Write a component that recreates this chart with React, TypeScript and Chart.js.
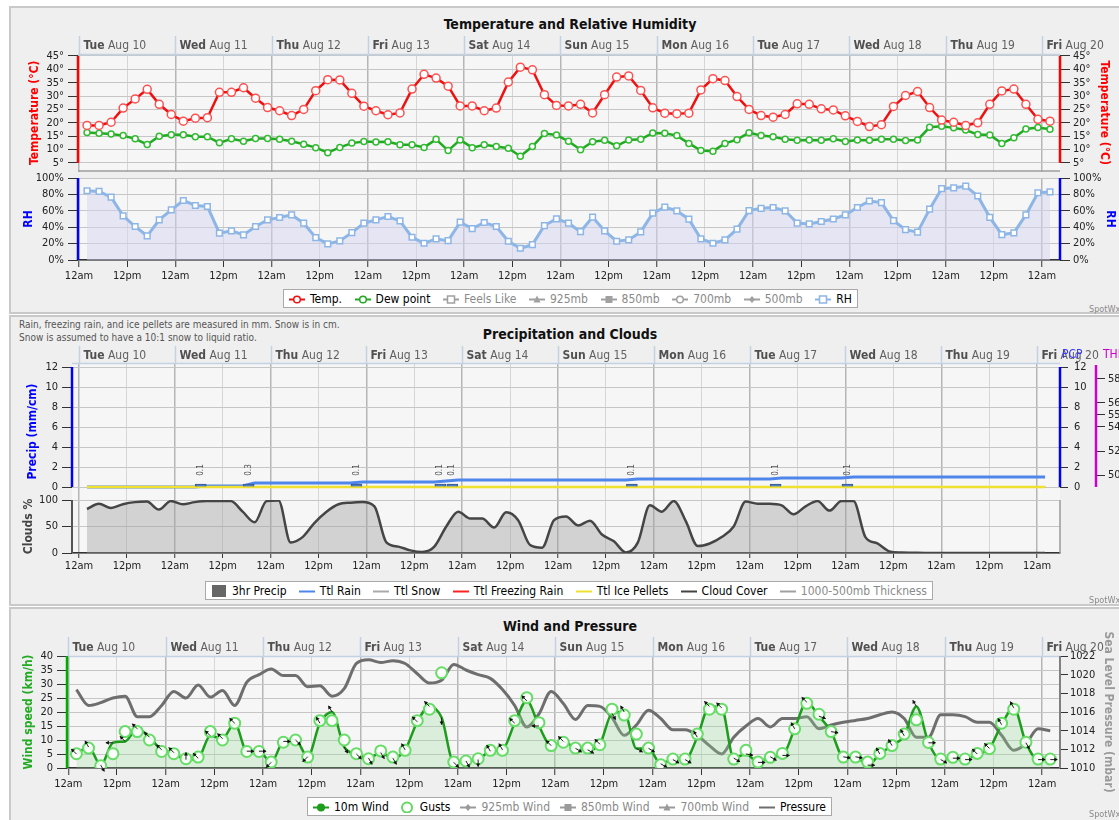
import React, { useEffect, useRef } from 'react';
import { Chart, registerables } from 'chart.js';

Chart.register(...registerables);

const FONT = "'DejaVu Sans Condensed', 'DejaVu Sans', sans-serif";
Chart.defaults.font.family = FONT;
Chart.defaults.font.size = 11;
Chart.defaults.color = '#222';

// ---------------- time axis (hours after 12am Tue Aug 10) ----------------
const hours = [2, 5, 8, 11, 14, 17, 20, 23, 26, 29, 32, 35, 38, 41, 44, 47, 50, 53, 56, 59, 62, 65, 68, 71, 74, 77, 80, 83, 86, 89, 92, 95, 98, 101, 104, 107, 110, 113, 116, 119, 122, 125, 128, 131, 134, 137, 140, 143, 146, 149, 152, 155, 158, 161, 164, 167, 170, 173, 176, 179, 182, 185, 188, 191, 194, 197, 200, 203, 206, 209, 212, 215, 218, 221, 224, 227, 230, 233, 236, 239, 242];
const xTicks = [0, 12, 24, 36, 48, 60, 72, 84, 96, 108, 120, 132, 144, 156, 168, 180, 192, 204, 216, 228, 240];
const dayNames = ['Tue', 'Wed', 'Thu', 'Fri', 'Sat', 'Sun', 'Mon', 'Tue', 'Wed', 'Thu', 'Fri'];
const dayDates = ['Aug 10', 'Aug 11', 'Aug 12', 'Aug 13', 'Aug 14', 'Aug 15', 'Aug 16', 'Aug 17', 'Aug 18', 'Aug 19', 'Aug 20'];

// ---------------- temperature & humidity ----------------
const temperature = [19, 19, 20.2, 25.5, 28.9, 32.5, 26.9, 23.1, 20.6, 21.7, 21.9, 31.4, 31.4, 33.1, 29.2, 25.7, 24.5, 22.7, 25, 32, 36.1, 36, 31, 26.2, 24.5, 23, 23.7, 32.6, 38.1, 36.7, 33.7, 26.3, 26.3, 24.5, 25.5, 35.2, 40.8, 39.8, 30.5, 26.5, 26.3, 26.9, 23.7, 30.5, 37.1, 37.5, 32.1, 25.6, 23.6, 23.4, 23.6, 32.3, 36.5, 35.8, 29.8, 25, 22.7, 22.1, 23.1, 27.1, 26.9, 25.2, 24.8, 22.6, 20.5, 18.6, 19.3, 26.1, 30.2, 31.7, 25.7, 21, 20.2, 19, 20, 26.9, 31.9, 32.6, 26.9, 21.3, 20.6];
const dewPoint = [16.4, 16.1, 15.8, 15.2, 14, 11.9, 15, 15.5, 15.5, 14.8, 14.8, 12.5, 14, 13.1, 14.1, 14.1, 13.8, 13.1, 12, 10.7, 8.8, 10.8, 12.4, 13, 12.8, 12.9, 11.8, 11.8, 10.8, 13.8, 9.6, 13.6, 10.7, 11.8, 11.1, 10.5, 7.5, 11.1, 16, 15.4, 13.1, 9.9, 12.9, 13.5, 11.4, 13.6, 13.8, 16.2, 16.1, 15.2, 12.3, 9.6, 9.4, 12.3, 13.7, 16.3, 15.2, 14.8, 13.8, 13.5, 13.6, 13.5, 14, 13, 13.6, 13.5, 13.8, 13.8, 13.4, 13.6, 18.3, 18.7, 18.1, 17.3, 15.6, 15.4, 12.3, 14.4, 17.7, 18.2, 17.6];
const humidity = [84.4, 83.6, 76.7, 53.9, 40.8, 29.4, 49, 61.2, 72.6, 66.5, 65.3, 32.7, 35.5, 30.6, 40.8, 49, 51.8, 55.1, 44.9, 27.3, 19.6, 23.3, 33.4, 44.9, 49, 53, 47.7, 27.8, 20.4, 25.7, 23.6, 46.1, 38.3, 45.7, 40.8, 22.9, 14.3, 18.7, 42, 50.2, 44.9, 34.6, 52.3, 35.5, 22.9, 24.5, 34.3, 57.2, 64.5, 60, 49.8, 25.7, 20.4, 24.5, 37.6, 60.3, 63, 64, 60, 45, 44, 47, 50, 55, 64, 72, 70, 48, 37, 34, 62, 87, 88, 90, 78, 52, 31, 33, 55, 82, 83];
const tempTicks = [5, 10, 15, 20, 25, 30, 35, 40, 45];
const rhTicks = [0, 20, 40, 60, 80, 100];

// ---------------- precipitation & clouds ----------------
const precipHours = [30.5, 42.5, 69.5, 90.5, 93.5, 138.5, 174.5, 192.5];
const precip3hr = [0.1, 0.3, 0.1, 0.1, 0.1, 0.1, 0.1, 0.1];
const rainHours = [2, 29, 32, 41, 44, 68, 71, 89, 92, 95, 137, 140, 173, 176, 191, 194, 242];
const rainTotal = [0, 0, 0.1, 0.1, 0.4, 0.4, 0.5, 0.5, 0.6, 0.7, 0.7, 0.8, 0.8, 0.9, 0.9, 1.0, 1.0];
const flatHours = [2, 242];
const snowTotal = [0, 0];
const freezingRainTotal = [0, 0];
const icePelletsTotal = [0, 0];
const cloudCover = [83, 93, 85, 92, 96, 97, 82, 98, 92, 96, 98, 98, 98, 78, 58, 98, 99, 20, 30, 57, 78, 92, 95, 96, 88, 20, 12, 5, 2, 12, 50, 78, 65, 65, 48, 77, 62, 15, 10, 62, 69, 52, 61, 35, 22, 1, 20, 90, 78, 98, 60, 13, 18, 30, 50, 97, 93, 93, 90, 73, 88, 98, 80, 98, 98, 30, 18, 3, 1, 0.5, 0, 0, 0, 0, 0, 0, 0, 0, 0, 0, 0];
const precipTicks = [0, 2, 4, 6, 8, 10, 12];
const thicknessTicks = [50, 52, 54, 55, 56, 58];
const cloudTicks = [0, 50, 100];

// ---------------- wind & pressure ----------------
const windSpeed = [5, 7.5, 1, 9, 9.5, 14, 11, 6.5, 5.5, 3, 3.5, 11.5, 10.5, 16, 6, 6, 2, 9.5, 10, 4, 16, 20, 7.5, 5, 3.5, 5.5, 3.5, 6.5, 16.5, 22, 18, 2, 2.5, 3, 6, 6.5, 16, 24, 15, 8, 9.5, 7, 6.5, 8.5, 19.5, 20, 7, 7, 1.5, 3, 3, 11, 22, 21.5, 3.5, 5, 2, 4, 4.5, 14, 23.5, 18.5, 13, 4, 4, 1, 5, 8, 11.5, 22, 9, 3, 3.5, 3, 5, 7, 15.5, 21.5, 9, 3, 3];
const windGust = [5.1, 7.1, 0.8, 5.1, 13, 13, 10, 5.9, 5.1, 3.3, 3.9, 13, 10, 16, 5.9, 5.9, 2.1, 9.2, 10, 3.9, 16.9, 16.9, 10, 5.1, 3.3, 6.1, 3.9, 6.3, 16.9, 21, 34, 2.1, 2.5, 3.3, 6.3, 6.3, 16.9, 25.1, 16.2, 8, 9.2, 7.1, 7.1, 8.3, 21, 18.9, 12.1, 7.1, 1.2, 3.2, 3.2, 12.1, 21, 21, 3.2, 6.3, 2.1, 3.8, 5.2, 14, 23.1, 19.2, 13, 3.9, 3.9, 2.1, 5.2, 8, 12.1, 17.2, 9.1, 3.2, 3.8, 3.2, 5.2, 6.9, 16, 21, 9.2, 3.2, 3.2];
const windDir = [315, 330, 150, 270, 315, 315, 315, 315, 315, 0, 315, 315, 315, 315, 90, 90, 225, 90, 135, 225, 330, 330, 150, 135, 150, 150, 150, 330, 315, 315, 180, 135, 150, 180, 330, 330, 315, 315, 270, 315, 315, 120, 120, 315, 150, 330, 120, 120, 120, 120, 120, 330, 315, 315, 120, 100, 90, 120, 90, 330, 315, 110, 100, 100, 100, 90, 330, 330, 330, 330, 90, 120, 90, 90, 315, 315, 330, 330, 150, 90, 90];
const pressure = [1018.4, 1016.7, 1017, 1017.5, 1017.7, 1015.5, 1015.5, 1016.7, 1018.2, 1017.5, 1018.9, 1017.6, 1018.3, 1016.7, 1019.2, 1020, 1020.6, 1019.9, 1019.9, 1018.7, 1018.8, 1017.7, 1018.5, 1021.2, 1021.6, 1021.3, 1021.5, 1021.2, 1020.1, 1019.1, 1019.4, 1021.1, 1020.5, 1020, 1019.6, 1018.4, 1016.7, 1014.4, 1015.8, 1018.2, 1016.9, 1015.2, 1016.7, 1016.6, 1015.4, 1013.5, 1014.6, 1016.2, 1015.3, 1014.1, 1014.1, 1013.5, 1012.4, 1011.5, 1013.3, 1014.5, 1015.3, 1014.4, 1015.3, 1015.3, 1015.5, 1014.2, 1014.6, 1014.9, 1015.1, 1015.3, 1015.7, 1016, 1015.3, 1013.3, 1013.3, 1015.7, 1015.7, 1015.5, 1014.9, 1014.9, 1013.5, 1011.9, 1012.6, 1014.2, 1014];
const windTicks = [0, 5, 10, 15, 20, 25, 30, 35, 40];
const pressureTicks = [1010, 1012, 1014, 1016, 1018, 1020, 1022];

// ---------------- helpers ----------------
const BG = '#f6f6f6';
const pts = (xs: number[], ys: number[]) => xs.map((x, i) => ({ x, y: ys[i] }));
const fixW = (w: number) => (s: any) => { s.width = w; s.paddingTop = 0; s.paddingBottom = 0; s.paddingLeft = 0; s.paddingRight = 0; };
const fixH = (h: number) => (s: any) => { s.height = h; s.paddingTop = 0; s.paddingBottom = 0; s.paddingLeft = 0; s.paddingRight = 0; };
const setTicks = (vals: number[]) => (s: any) => { s.ticks = vals.map((v) => ({ value: v })); };

const base = () => ({
  animation: false,
  responsive: false,
  maintainAspectRatio: false,
  events: [],
  plugins: { legend: { display: false }, tooltip: { enabled: false } },
});

function xAxis(min: number, max: number, show: boolean, height: number, tickLen = 7, pad = 3) {
  return {
    type: 'linear', min, max, offset: false,
    afterBuildTicks: setTicks(xTicks),
    afterFit: fixH(height),
    ticks: { display: show, autoSkip: false, maxRotation: 0, padding: pad, color: '#222', font: { size: 11 }, callback: (v: number) => (v % 24 === 0 ? '12am' : '12pm') },
    grid: {
      offset: false,
      color: (c: any) => (c.tick && c.tick.value % 24 === 0 ? '#b6b6b6' : '#d6d6d6'),
      lineWidth: (c: any) => (c.tick && c.tick.value % 24 === 0 ? 1.5 : 1),
      drawTicks: show, tickLength: tickLen, tickColor: '#333', tickWidth: 1,
    },
    border: { display: show, color: '#333', width: 1.5 },
  };
}

function yAxis(o: any) {
  return {
    type: 'linear', position: o.position, min: o.min, max: o.max, beginAtZero: false,
    afterBuildTicks: setTicks(o.ticks),
    afterFit: fixW(o.width),
    ticks: { display: o.showLabels !== false, autoSkip: false, padding: o.pad ?? 4, color: '#222', font: { size: 11 }, callback: o.label ?? ((v: number) => String(v)) },
    grid: { drawOnChartArea: !!o.grid, color: '#c6c6c6', lineWidth: 1, tickLength: o.tickLen ?? 9, tickColor: '#333', tickWidth: 1 },
    border: { display: false },
    title: o.title
      ? { display: true, text: o.title.text, color: o.title.color, font: { size: 12, weight: 'bold' }, padding: { top: o.title.pad, bottom: 0 } }
      : { display: false },
  };
}

function fillArea(chart: any, color: string) {
  const { ctx, chartArea: a } = chart;
  ctx.save();
  ctx.fillStyle = color;
  ctx.fillRect(a.left, a.top, a.right - a.left, a.bottom - a.top);
  ctx.restore();
}
function vLine(ctx: any, x: number, y1: number, y2: number, color: string, width: number) {
  ctx.save(); ctx.strokeStyle = color; ctx.lineWidth = width;
  ctx.beginPath(); ctx.moveTo(x, y1); ctx.lineTo(x, y2); ctx.stroke(); ctx.restore();
}
function hLine(ctx: any, x1: number, x2: number, y: number, color: string, width: number) {
  ctx.save(); ctx.strokeStyle = color; ctx.lineWidth = width;
  ctx.beginPath(); ctx.moveTo(x1, y); ctx.lineTo(x2, y); ctx.stroke(); ctx.restore();
}
function drawHeader(chart: any, height: number, textDy: number) {
  const { ctx, chartArea: a } = chart;
  const x = chart.scales.x;
  ctx.save();
  hLine(ctx, a.left, a.right, a.top + 0.5, '#c3d2e2', 1.5);
  dayNames.forEach((d, i) => {
    const px = Math.round(x.getPixelForValue(i * 24)) + 0.5;
    vLine(ctx, px, a.top - height, a.top, '#c3d2e2', 1.5);
    const ty = a.top - textDy;
    ctx.textBaseline = 'middle';
    ctx.textAlign = 'left';
    ctx.font = `bold 12px ${FONT}`;
    ctx.fillStyle = '#505050';
    ctx.fillText(d, px + 4, ty);
    const w = ctx.measureText(d).width;
    ctx.font = `12px ${FONT}`;
    ctx.fillStyle = '#606060';
    ctx.fillText(' ' + dayDates[i], px + 4 + w, ty);
  });
  ctx.restore();
}
function arrow(ctx: any, x: number, y: number, deg: number) {
  const a = (deg * Math.PI) / 180;
  const dx = Math.sin(a), dy = -Math.cos(a);
  const L = 7;
  const x1 = x + dx * L, y1 = y + dy * L;
  ctx.beginPath(); ctx.moveTo(x, y); ctx.lineTo(x1, y1); ctx.stroke();
  const px = -dy, py = dx;
  ctx.beginPath();
  ctx.moveTo(x1 + dx * 0.5, y1 + dy * 0.5);
  ctx.lineTo(x1 - dx * 3 + px * 2, y1 - dy * 3 + py * 2);
  ctx.lineTo(x1 - dx * 3 - px * 2, y1 - dy * 3 - py * 2);
  ctx.closePath(); ctx.fill();
}

// ---------------- chart configs ----------------
function tempConfig(): any {
  return {
    type: 'line',
    data: {
      datasets: [
        { data: pts(hours, temperature), borderColor: '#ee1111', borderWidth: 2.5, pointRadius: 4, pointBackgroundColor: '#ffffff', pointBorderColor: '#ff5050', pointBorderWidth: 1.5, tension: 0 },
        { data: pts(hours, dewPoint), borderColor: '#22aa22', borderWidth: 2.5, pointRadius: 3, pointBackgroundColor: '#ffffff', pointBorderColor: '#33bb33', pointBorderWidth: 1.5, tension: 0 },
      ],
    },
    options: {
      ...base(),
      layout: { padding: { top: 24, right: 0, bottom: 0, left: 0 } },
      scales: {
        x: xAxis(-0.25, 244.5, false, 0),
        y: yAxis({ position: 'left', min: 1.786, max: 45.714, ticks: tempTicks, width: 68, grid: true, label: (v: number) => v + '°', title: { text: 'Temperature (°C)', color: '#ff0000', pad: 17.8 }, tickLen: 10, pad: 4 }),
        y2: yAxis({ position: 'right', min: 1.786, max: 45.714, ticks: tempTicks, width: 59, label: (v: number) => v + '°', title: { text: 'Temperature (°C)', color: '#ff0000', pad: 7.8 }, tickLen: 10, pad: 3 }),
      },
    },
    plugins: [{
      id: 'decorT',
      beforeDraw: (c: any) => fillArea(c, BG),
      afterDraw: (c: any) => {
        const a = c.chartArea, y = c.scales.y;
        drawHeader(c, 18, 8);
        vLine(c.ctx, a.left, y.getPixelForValue(45), y.getPixelForValue(5), '#ff0000', 2.5);
        vLine(c.ctx, a.right, y.getPixelForValue(45), y.getPixelForValue(5), '#ff0000', 2.5);
        hLine(c.ctx, a.left, a.right, a.bottom - 0.5, '#9c9c9c', 1.5);
      },
    }],
  };
}

function rhConfig(): any {
  return {
    type: 'line',
    data: {
      datasets: [
        { data: pts(hours, humidity), borderColor: '#8db6e6', borderWidth: 3, pointStyle: 'rect', pointRadius: 4, pointBackgroundColor: '#ffffff', pointBorderColor: '#8db6e6', pointBorderWidth: 1.5, fill: 'origin', backgroundColor: 'rgba(212,212,240,0.5)', tension: 0 },
      ],
    },
    options: {
      ...base(),
      layout: { padding: { top: 13, right: 0, bottom: 0, left: 0 } },
      scales: {
        x: xAxis(-0.25, 244.5, true, 28),
        y: yAxis({ position: 'left', min: 0, max: 100, ticks: rhTicks, width: 68, grid: true, label: (v: number) => v + '%', title: { text: 'RH', color: '#0000ff', pad: 11.3 }, tickLen: 10, pad: 4 }),
        y2: yAxis({ position: 'right', min: 0, max: 100, ticks: rhTicks, width: 59, label: (v: number) => v + '%', title: { text: 'RH', color: '#0000ff', pad: 1.8 }, tickLen: 10, pad: 3 }),
      },
    },
    plugins: [{
      id: 'decorRH',
      beforeDraw: (c: any) => fillArea(c, BG),
      afterDraw: (c: any) => {
        const a = c.chartArea;
        vLine(c.ctx, a.left, a.top, a.bottom, '#0000ff', 2.5);
        vLine(c.ctx, a.right, a.top, a.bottom, '#0000ff', 2.5);
      },
    }],
  };
}

function precipConfig(): any {
  return {
    type: 'line',
    data: {
      datasets: [
        { type: 'bar', data: pts(precipHours, precip3hr), backgroundColor: '#4f7cc4', borderColor: '#36598f', borderWidth: 1, barThickness: 11, minBarLength: 3, order: 0 },
        { data: pts(rainHours, rainTotal), borderColor: '#4f86ec', borderWidth: 3, pointRadius: 0, tension: 0, order: 5 },
        { data: pts(flatHours, snowTotal), borderColor: '#9a9a9a', borderWidth: 2, pointRadius: 0, order: 4 },
        { data: pts(flatHours, freezingRainTotal), borderColor: '#ff2222', borderWidth: 2, pointRadius: 0, order: 3 },
        { data: pts(flatHours, icePelletsTotal), borderColor: '#f0e030', borderWidth: 2.5, pointRadius: 0, order: 2 },
      ],
    },
    options: {
      ...base(),
      layout: { padding: { top: 23, right: 0, bottom: 0, left: 0 } },
      scales: {
        x: xAxis(-1.753, 245.74, false, 0),
        y: yAxis({ position: 'left', min: -1.3, max: 12.4, ticks: precipTicks, width: 62, grid: true, title: { text: 'Precip (mm/cm)', color: '#0000ff', pad: 15.8 }, tickLen: 10, pad: 4 }),
        y2: yAxis({ position: 'right', min: -1.3, max: 12.4, ticks: precipTicks, width: 36, tickLen: 8, pad: 6 }),
        y3: yAxis({ position: 'right', min: 47.92, max: 59.33, ticks: thicknessTicks, width: 23, tickLen: 9, pad: 3 }),
      },
    },
    plugins: [{
      id: 'decorP',
      beforeDraw: (c: any) => fillArea(c, BG),
      afterDatasetsDraw: (c: any) => {
        const { ctx } = c;
        const y0 = c.scales.y.getPixelForValue(0);
        const meta = c.getDatasetMeta(0);
        meta.data.forEach((el: any, i: number) => {
          ctx.save();
          ctx.translate(el.x, y0 - 17);
          ctx.rotate(-Math.PI / 2);
          ctx.font = `8px ${FONT}`;
          ctx.fillStyle = '#555';
          ctx.textAlign = 'center';
          ctx.textBaseline = 'middle';
          ctx.fillText(precip3hr[i].toFixed(1), 0, 0);
          ctx.restore();
        });
      },
      afterDraw: (c: any) => {
        const { ctx, chartArea: a } = c;
        const y = c.scales.y, y3 = c.scales.y3;
        drawHeader(c, 17, 7);
        vLine(ctx, a.left, y.getPixelForValue(12), y.getPixelForValue(0), '#0000ff', 2.5);
        vLine(ctx, a.right, y.getPixelForValue(12), y.getPixelForValue(0), '#0000ff', 2.5);
        vLine(ctx, y3.left, y.getPixelForValue(12.2), y.getPixelForValue(0), '#cc00cc', 2.5);
        ctx.save();
        ctx.font = `12px ${FONT}`;
        ctx.textBaseline = 'middle';
        ctx.textAlign = 'left';
        ctx.fillStyle = '#3a3aff';
        ctx.fillText('PCP', 1052, 15);
        ctx.fillStyle = '#cc00cc';
        ctx.fillText('THK', 1093, 15);
        ctx.restore();
      },
    }],
  };
}

function cloudConfig(): any {
  return {
    type: 'line',
    data: {
      datasets: [
        { data: pts(hours, cloudCover), borderColor: '#454545', borderWidth: 2.5, pointRadius: 0, cubicInterpolationMode: 'monotone', fill: 'origin', backgroundColor: 'rgba(160,160,160,0.42)' },
      ],
    },
    options: {
      ...base(),
      layout: { padding: { top: 12, right: 59, bottom: 0, left: 0 } },
      scales: {
        x: xAxis(-1.753, 245.74, true, 27, 5, 2),
        y: yAxis({ position: 'left', min: 0, max: 100, ticks: cloudTicks, width: 62, grid: true, title: { text: 'Clouds %', color: '#444444', pad: 11.8 }, tickLen: 10, pad: 4 }),
      },
    },
    plugins: [{
      id: 'decorC',
      beforeDraw: (c: any) => fillArea(c, BG),
      afterDraw: (c: any) => {
        const a = c.chartArea;
        vLine(c.ctx, a.left, a.top, a.bottom, '#555555', 2);
        vLine(c.ctx, a.right, a.top, a.bottom, '#9a9a9a', 1.5);
      },
    }],
  };
}

function windConfig(): any {
  return {
    type: 'line',
    data: {
      datasets: [
        { data: pts(hours, windGust), showLine: false, pointRadius: 5.5, pointBorderWidth: 2, pointBorderColor: '#66dd66', pointBackgroundColor: 'rgba(255,255,255,0.92)', order: 0 },
        { data: pts(hours, windSpeed), borderColor: '#1c9e1c', borderWidth: 2.5, pointRadius: 0, cubicInterpolationMode: 'monotone', fill: 'origin', backgroundColor: 'rgba(150,215,150,0.28)', order: 1 },
        { data: pts(hours, pressure), yAxisID: 'y2', borderColor: '#6e6e6e', borderWidth: 3, pointRadius: 0, cubicInterpolationMode: 'monotone', order: 2 },
      ],
    },
    options: {
      ...base(),
      layout: { padding: { top: 26, right: 0, bottom: 0, left: 0 } },
      scales: {
        x: xAxis(-0.32, 244.4, true, 28),
        y: yAxis({ position: 'left', min: 0, max: 40, ticks: windTicks, width: 57, grid: true, title: { text: 'Wind speed (km/h)', color: '#22aa22', pad: 11.8 }, tickLen: 10, pad: 4 }),
        y2: yAxis({ position: 'right', min: 1010, max: 1022, ticks: pressureTicks, width: 59, title: { text: 'Sea Level Pressure (mbar)', color: '#9a9a9a', pad: 3.8 }, tickLen: 8, pad: 2 }),
      },
    },
    plugins: [{
      id: 'decorW',
      beforeDraw: (c: any) => fillArea(c, BG),
      afterDatasetsDraw: (c: any) => {
        const { ctx } = c;
        const meta = c.getDatasetMeta(1);
        ctx.save();
        ctx.strokeStyle = '#222';
        ctx.fillStyle = '#111';
        ctx.lineWidth = 1;
        meta.data.forEach((el: any, i: number) => arrow(ctx, el.x, el.y, windDir[i]));
        ctx.restore();
      },
      afterDraw: (c: any) => {
        const a = c.chartArea;
        drawHeader(c, 19, 8);
        vLine(c.ctx, a.left, a.top, a.bottom, '#00aa00', 2.5);
        vLine(c.ctx, a.right, a.top, a.bottom, '#808080', 2);
      },
    }],
  };
}

// ---------------- legends (HTML) ----------------
function Mk({ kind, color }: { kind: string; color: string }) {
  const line = kind !== 'box' && kind !== 'ring';
  return (
    <svg width="16" height="12" style={{ flex: 'none', marginRight: 5 }}>
      {line && <line x1="0" y1="6.5" x2="16" y2="6.5" stroke={color} strokeWidth="2" />}
      {kind === 'circle' && <circle cx="8" cy="6.5" r="3.3" fill="#fff" stroke={color} strokeWidth="1.5" />}
      {kind === 'dot' && <circle cx="8" cy="6.5" r="4" fill={color} />}
      {kind === 'square' && <rect x="4.5" y="3" width="7" height="7" fill="#fff" stroke={color} strokeWidth="1.5" />}
      {kind === 'ring' && <circle cx="8" cy="6.5" r="5" fill="#fff" stroke={color} strokeWidth="2" />}
      {kind === 'box' && <rect x="1" y="0" width="14" height="12" fill={color} />}
      {kind === 'diamond' && <path d="M8 3 L11 6.5 L8 10 L5 6.5 Z" fill={color} />}
      {kind === 'tri' && <path d="M8 2.5 L11.5 9.5 L4.5 9.5 Z" fill={color} />}
      {kind === 'sqfill' && <rect x="4.5" y="3" width="7" height="7" fill={color} />}
    </svg>
  );
}

function Legend({ left, top, width, height, items }: any) {
  return (
    <div style={{ position: 'absolute', left, top, width, height, boxSizing: 'border-box', border: '1px solid #a9a9a9', background: '#ffffff', display: 'flex', alignItems: 'center', justifyContent: 'space-between', padding: '0 5px', fontSize: 12, fontFamily: FONT, whiteSpace: 'nowrap' }}>
      {items.map((it: any) => (
        <div key={it.label} style={{ display: 'flex', alignItems: 'center', color: it.text || '#000' }}>
          <Mk kind={it.kind} color={it.color} />
          {it.label}
        </div>
      ))}
    </div>
  );
}

const legend1 = [
  { label: 'Temp.', kind: 'circle', color: '#ee1111' },
  { label: 'Dew point', kind: 'circle', color: '#22aa22' },
  { label: 'Feels Like', kind: 'square', color: '#a0a0a0', text: '#8a8a8a' },
  { label: '925mb', kind: 'tri', color: '#a0a0a0', text: '#8a8a8a' },
  { label: '850mb', kind: 'sqfill', color: '#a0a0a0', text: '#8a8a8a' },
  { label: '700mb', kind: 'circle', color: '#a0a0a0', text: '#8a8a8a' },
  { label: '500mb', kind: 'diamond', color: '#a0a0a0', text: '#8a8a8a' },
  { label: 'RH', kind: 'square', color: '#8db6e6' },
];
const legend2 = [
  { label: '3hr Precip', kind: 'box', color: '#666666' },
  { label: 'Ttl Rain', kind: 'line', color: '#4f86ec' },
  { label: 'Ttl Snow', kind: 'line', color: '#aaaaaa' },
  { label: 'Ttl Freezing Rain', kind: 'line', color: '#ff2222' },
  { label: 'Ttl Ice Pellets', kind: 'line', color: '#f0e030' },
  { label: 'Cloud Cover', kind: 'line', color: '#444444' },
  { label: '1000-500mb Thickness', kind: 'line', color: '#a0a0a0', text: '#8a8a8a' },
];
const legend3 = [
  { label: '10m Wind', kind: 'dot', color: '#1c9e1c' },
  { label: 'Gusts', kind: 'ring', color: '#62d862' },
  { label: '925mb Wind', kind: 'diamond', color: '#9a9a9a', text: '#8a8a8a' },
  { label: '850mb Wind', kind: 'sqfill', color: '#9a9a9a', text: '#8a8a8a' },
  { label: '700mb Wind', kind: 'tri', color: '#9a9a9a', text: '#8a8a8a' },
  { label: 'Pressure', kind: 'line', color: '#6e6e6e' },
];

const panelStyle = (top: number, height: number): any => ({
  position: 'absolute', left: 9, top, width: 1120, height, boxSizing: 'border-box',
  border: '2px solid #c9c9c9', background: '#efefef',
});
const titleStyle = (top: number): any => ({
  position: 'absolute', left: 370, top, width: 400, textAlign: 'center',
  fontFamily: FONT, fontWeight: 'bold', fontSize: 14, lineHeight: '16px', color: '#111',
});
const creditStyle = (top: number): any => ({
  position: 'absolute', left: 1089, top, fontFamily: FONT, fontSize: 9, color: '#8a8a8a', whiteSpace: 'nowrap',
});

export default function App() {
  const r1 = useRef<HTMLCanvasElement>(null);
  const r2 = useRef<HTMLCanvasElement>(null);
  const r3 = useRef<HTMLCanvasElement>(null);
  const r4 = useRef<HTMLCanvasElement>(null);
  const r5 = useRef<HTMLCanvasElement>(null);

  useEffect(() => {
    const charts = [
      new Chart(r1.current as any, tempConfig()),
      new Chart(r2.current as any, rhConfig()),
      new Chart(r3.current as any, precipConfig()),
      new Chart(r4.current as any, cloudConfig()),
      new Chart(r5.current as any, windConfig()),
    ];
    return () => charts.forEach((c) => c.destroy());
  }, []);

  const cv = (top: number, height: number): any => ({ position: 'absolute', left: 10, top, width: 1109, height });

  return (
    <div style={{ position: 'absolute', left: 0, top: 0, width: 1119, height: 820, overflow: 'hidden', background: '#ffffff', fontFamily: FONT }}>
      <div style={panelStyle(6, 308)} />
      <div style={panelStyle(315, 291)} />
      <div style={panelStyle(607, 220)} />

      <div style={titleStyle(16)}>Temperature and Relative Humidity</div>
      <div style={titleStyle(326)}>Precipitation and Clouds</div>
      <div style={titleStyle(618)}>Wind and Pressure</div>

      <div style={{ position: 'absolute', left: 19, top: 318, fontFamily: FONT, fontSize: 10, lineHeight: '13px', color: '#555' }}>
        Rain, freezing rain, and ice pellets are measured in mm. Snow is in cm.<br />
        Snow is assumed to have a 10:1 snow to liquid ratio.
      </div>

      <canvas ref={r1} width={1109} height={147} style={cv(30, 147)} />
      <canvas ref={r2} width={1109} height={123} style={cv(165, 123)} />
      <canvas ref={r3} width={1109} height={160} style={cv(340, 160)} />
      <canvas ref={r4} width={1109} height={92} style={cv(488, 92)} />
      <canvas ref={r5} width={1109} height={166} style={cv(630, 166)} />

      <Legend left={283} top={289} width={575} height={19} items={legend1} />
      <Legend left={205} top={581} width={728} height={19} items={legend2} />
      <Legend left={307} top={797} width={525} height={19} items={legend3} />

      <div style={creditStyle(304)}>SpotWx</div>
      <div style={creditStyle(595)}>SpotWx</div>
      <div style={creditStyle(809)}>SpotWx</div>
    </div>
  );
}
